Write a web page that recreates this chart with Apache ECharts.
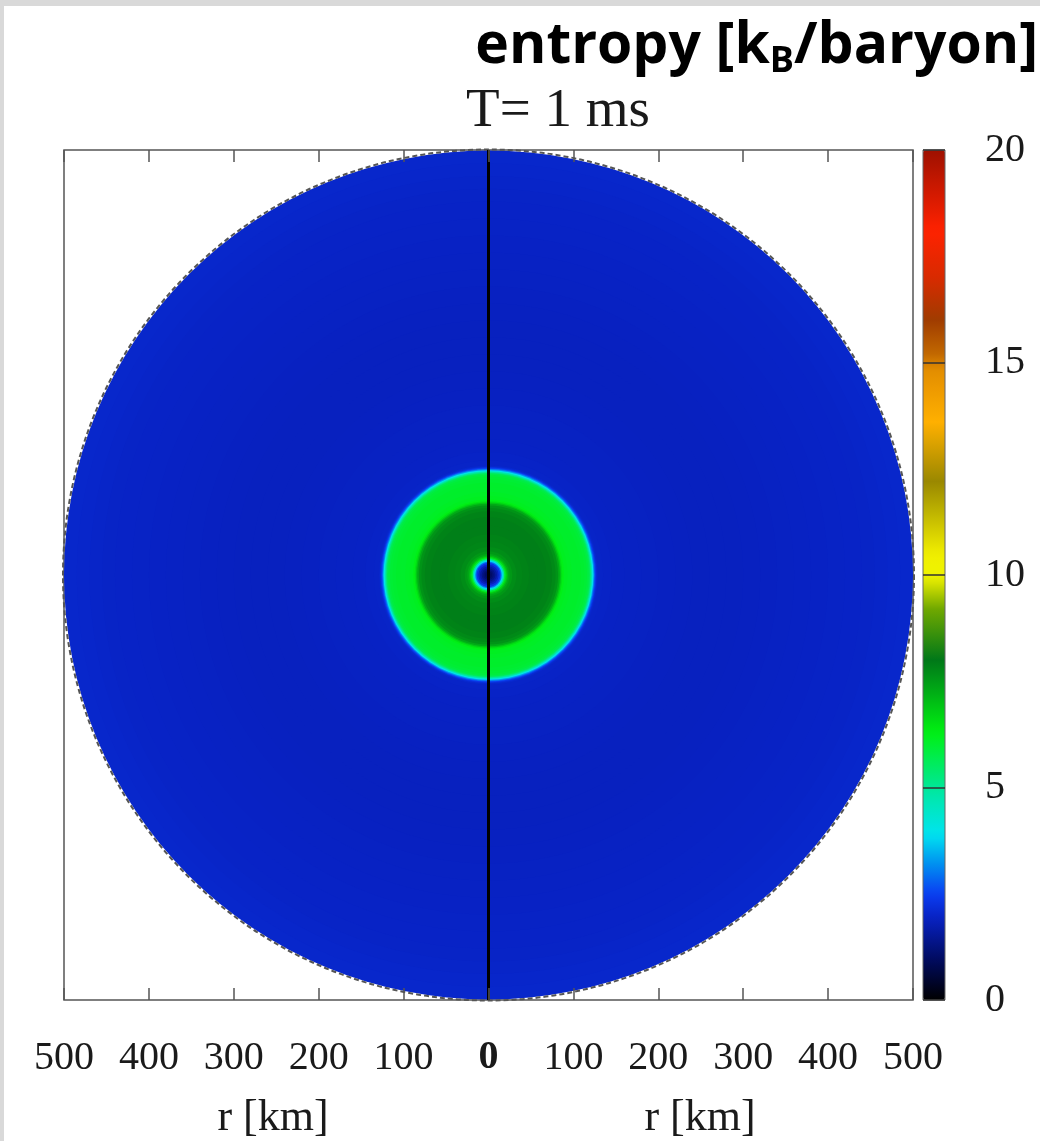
<!DOCTYPE html>
<html>
<head>
<meta charset="utf-8">
<title>entropy [kB/baryon], T = 1 ms</title>
<script src="https://cdn.jsdelivr.net/npm/echarts@6/dist/echarts.min.js"></script>
<style>
  html, body { margin: 0; padding: 0; background: #ffffff; }
  #chart { width: 1040px; height: 1141px; }
</style>
</head>
<body>
<div id="chart"></div>
<script>
// Radial entropy profile: outer edge of each shell [km] and its entropy [kB/baryon]
const shellOuterRadiusKm = [
  500, 485, 470, 455, 440, 420, 400, 380, 360, 340, 320, 300, 280, 260, 240, 220, 200,
  180, 160, 145, 135, 129,
  127.5, 126.5, 125.5, 124.5, 123.5, 122.5, 121.5, 120.5, 119.5, 118, 116, 113, 109, 104, 98, 93, 89,
  87, 85.5, 84, 82, 79, 75, 68, 58, 48, 40, 33, 28, 25, 23, 21.5, 20, 18.5, 17, 15.5, 14, 12, 10, 8, 6, 4, 2
];
const shellEntropy = [
  2.04, 2.02, 2.0, 1.98, 1.97, 1.96, 1.95, 1.94, 1.93, 1.92, 1.91, 1.9, 1.9, 1.9, 1.91, 1.92, 1.93,
  1.94, 1.95, 1.97, 1.99, 2.05,
  2.2, 2.45, 2.8, 3.3, 3.9, 4.5, 5.0, 5.4, 5.7, 5.85, 5.95, 6.0, 6.05, 6.05, 6.1, 6.15, 6.25,
  6.5, 6.9, 7.3, 7.6, 7.75, 7.85, 7.9, 7.9, 7.85, 7.8, 7.7, 7.55, 7.35, 7.05, 6.6, 5.9, 4.9, 3.8, 2.9, 2.3, 1.9, 1.6, 1.35, 1.15, 1.0, 0.9
];

// Axis ticks
const rTicks = [-500, -400, -300, -200, -100, 0, 100, 200, 300, 400, 500];
const colorbarTicks = [0, 5, 10, 15, 20];
const entropyRange = [0, 20];

// Colour table of the entropy scale (value, colour)
const paletteStops = [
  [0.0, '#000000'], [0.9, '#000a5a'], [1.95, '#0822c4'], [2.5, '#0a3ef2'],
  [3.2, '#0090f0'], [3.9, '#00e4f0'], [4.95, '#00e8a0'], [5.05, '#00e890'],
  [6.3, '#00f012'], [8.0, '#007818'], [9.2, '#70a800'], [9.95, '#f0f000'],
  [10.05, '#eef400'], [10.5, '#f0ee00'], [12.2, '#9a8800'], [13.6, '#ffb000'],
  [14.95, '#e08a00'], [15.05, '#c87000'], [16.0, '#a03c00'], [17.0, '#d82a00'],
  [18.1, '#ff2200'], [20.0, '#9e1000']
];

function hexToRgb(h) {
  return [parseInt(h.slice(1, 3), 16), parseInt(h.slice(3, 5), 16), parseInt(h.slice(5, 7), 16)];
}
function paletteAt(v) {
  for (let i = 1; i < paletteStops.length; i++) {
    const [v1, c1] = paletteStops[i];
    const [v0, c0] = paletteStops[i - 1];
    if (v <= v1) {
      const t = (v - v0) / (v1 - v0);
      const a = hexToRgb(c0), b = hexToRgb(c1);
      const m = a.map((x, k) => Math.round(x + (b[k] - x) * t));
      return 'rgb(' + m.join(',') + ')';
    }
  }
  return paletteStops[paletteStops.length - 1][1];
}
const paletteSteps = [];
for (let i = 0; i <= 400; i++) paletteSteps.push(paletteAt(entropyRange[0] + (entropyRange[1] - entropyRange[0]) * i / 400));

// Shells are painted largest first so each smaller disk covers the inside of the previous one
const shellData = shellOuterRadiusKm
  .map((r, i) => [r, shellEntropy[i]])
  .sort((a, b) => b[0] - a[0]);

const serif = 'Liberation Serif';
const chart = echarts.init(document.getElementById('chart'), null, { renderer: 'canvas' });

const rAxisCommon = {
  gridIndex: 0, type: 'value', min: rTicks[0], max: rTicks[rTicks.length - 1], interval: 100, z: 5,
  axisLine: { show: false, onZero: false },
  axisTick: { show: true, inside: true, length: 12, lineStyle: { color: '#555555', width: 1.5 } },
  splitLine: { show: false }
};

chart.setOption({
  animation: false,
  backgroundColor: '#ffffff',
  grid: [
    { left: 64, top: 150, width: 849, height: 850, show: true, borderColor: '#555555', borderWidth: 1.5, backgroundColor: 'transparent', z: 0 },
    { left: 923, top: 150, width: 22, height: 850, show: true, borderColor: '#666666', borderWidth: 1, backgroundColor: 'transparent', z: 10 }
  ],
  xAxis: [
    Object.assign({}, rAxisCommon, {
      position: 'bottom',
      axisLabel: {
        margin: 38, fontFamily: serif, fontSize: 40, color: '#1a1a1a',
        formatter: v => (v === 0 ? '{z|0}' : String(Math.abs(v))),
        rich: { z: { fontFamily: serif, fontSize: 40, fontWeight: 'bold', color: '#1a1a1a' } }
      }
    }),
    Object.assign({}, rAxisCommon, { position: 'top', axisLabel: { show: false } }),
    { gridIndex: 1, type: 'value', min: 0, max: 1, show: false }
  ],
  yAxis: [
    {
      gridIndex: 0, type: 'value', min: -500, max: 500,
      axisLine: { show: false, onZero: false }, axisTick: { show: false }, axisLabel: { show: false }, splitLine: { show: false }
    },
    {
      gridIndex: 1, type: 'value', min: colorbarTicks[0], max: colorbarTicks[colorbarTicks.length - 1], interval: 5,
      position: 'right', z: 12,
      axisLine: { show: false, onZero: false },
      axisTick: { show: true, inside: true, length: 22, lineStyle: { color: '#333333', width: 1.5 } },
      splitLine: { show: false },
      axisLabel: { margin: 40, fontFamily: serif, fontSize: 40, color: '#1a1a1a' }
    }
  ],
  visualMap: {
    type: 'continuous',
    min: entropyRange[0], max: entropyRange[1],
    dimension: 1,
    seriesIndex: 0,
    calculable: false,
    hoverLink: false,
    realtime: false,
    text: ['', ''],
    showLabel: false,
    left: 923, top: 150,
    itemWidth: 22, itemHeight: 850,
    padding: 0,
    z: 4,
    inRange: { color: paletteSteps }
  },
  series: [
    {
      name: 'entropy',
      type: 'custom',
      coordinateSystem: 'cartesian2d',
      xAxisIndex: 0, yAxisIndex: 0,
      z: 2,
      data: shellData,
      renderItem: function (params, api) {
        const c = api.coord([0, 0]);
        const rPx = api.size([api.value(0), 0])[0];
        return {
          type: 'circle',
          shape: { cx: c[0], cy: c[1], r: rPx },
          style: { fill: api.visual('color') }
        };
      }
    },
    {
      name: 'boundary',
      type: 'custom',
      coordinateSystem: 'cartesian2d',
      xAxisIndex: 0, yAxisIndex: 0,
      z: 3,
      data: [[shellOuterRadiusKm[0], 0]],
      renderItem: function (params, api) {
        const c = api.coord([0, 0]);
        const rPx = api.size([api.value(0), 0])[0];
        return {
          type: 'circle',
          shape: { cx: c[0], cy: c[1], r: rPx + 1 },
          style: { fill: 'none', stroke: '#555555', lineWidth: 2, lineDash: [5, 3] }
        };
      }
    },
    {
      name: 'axis',
      type: 'line',
      xAxisIndex: 0, yAxisIndex: 0,
      z: 4,
      symbol: 'none',
      silent: true,
      data: [[0, -500], [0, 500]],
      lineStyle: { color: '#000000', width: 3 }
    }
  ],
  graphic: [
    { type: 'rect', shape: { x: 0, y: 0, width: 1040, height: 6 }, style: { fill: '#d9d9d9' }, silent: true },
    { type: 'rect', shape: { x: 0, y: 0, width: 4, height: 1141 }, style: { fill: '#d9d9d9' }, silent: true },
    {
      type: 'text', x: 1038, y: 47,
      style: {
        text: '{a|entropy [k}{s|B}{a|/baryon]}',
        align: 'right', verticalAlign: 'middle',
        rich: {
          a: { fontFamily: 'Open Sans', fontWeight: 'bold', fontSize: 57, lineHeight: 66, fill: '#000000' },
          s: { fontFamily: 'Open Sans', fontWeight: 'bold', fontSize: 36, lineHeight: 40, verticalAlign: 'bottom', fill: '#000000' }
        }
      }
    },
    {
      type: 'text', x: 558, y: 112,
      style: { text: 'T= 1 ms', fontFamily: serif, fontSize: 55, fill: '#1a1a1a', align: 'center', verticalAlign: 'middle' }
    },
    {
      type: 'text', x: 273, y: 1118,
      style: { text: 'r [km]', fontFamily: serif, fontSize: 44, fill: '#1a1a1a', align: 'center', verticalAlign: 'middle' }
    },
    {
      type: 'text', x: 700, y: 1118,
      style: { text: 'r [km]', fontFamily: serif, fontSize: 44, fill: '#1a1a1a', align: 'center', verticalAlign: 'middle' }
    }
  ]
});
</script>
</body>
</html>
